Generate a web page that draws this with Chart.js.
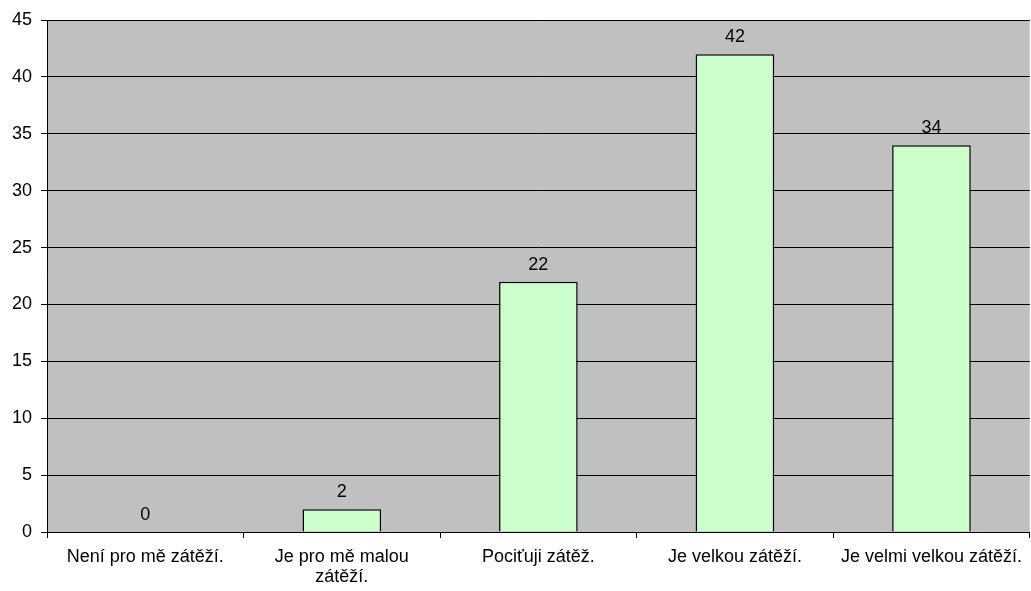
<!DOCTYPE html>
<html>
<head>
<meta charset="utf-8">
<script src="https://cdn.jsdelivr.net/npm/chart.js@4.4.0/dist/chart.umd.min.js"></script>
<style>
  html, body { margin: 0; padding: 0; background: #fff; }
  #wrap { width: 1031px; height: 591px; }
</style>
</head>
<body>
<div id="wrap"><canvas id="zatezChart"></canvas></div>
<script>
const categories = [
  "Není pro mě zátěží.",
  ["Je pro mě malou", "zátěží."],
  "Pociťuji zátěž.",
  "Je velkou zátěží.",
  "Je velmi velkou zátěží."
];
const counts = [0, 2, 22, 42, 34];
const yTicks = [0, 5, 10, 15, 20, 25, 30, 35, 40, 45];

const FONT = { family: "'Liberation Sans', Arial, sans-serif", size: 18, lineHeight: 1.1 };

// plot area background (grey)
const plotBackground = {
  id: 'plotBackground',
  beforeDraw(chart) {
    const { ctx, chartArea: a } = chart;
    ctx.save();
    ctx.fillStyle = '#c0c0c0';
    ctx.fillRect(a.left, a.top, a.right - a.left, a.bottom - a.top);
    ctx.restore();
  }
};

// value printed above each bar
const valueLabels = {
  id: 'valueLabels',
  afterDatasetsDraw(chart) {
    const { ctx } = chart;
    const meta = chart.getDatasetMeta(0);
    ctx.save();
    ctx.font = `${FONT.size}px ${FONT.family}`;
    ctx.fillStyle = '#000';
    ctx.textAlign = 'center';
    ctx.textBaseline = 'alphabetic';
    meta.data.forEach((bar, i) => {
      ctx.fillText(String(counts[i]), bar.x, bar.y - 12);
    });
    ctx.restore();
  }
};

new Chart(document.getElementById('zatezChart'), {
  type: 'bar',
  data: {
    labels: categories,
    datasets: [{
      data: counts,
      backgroundColor: '#ccffcc',
      borderColor: '#000',
      borderWidth: 1.5,
      barPercentage: 0.4,
      categoryPercentage: 1.0
    }]
  },
  options: {
    responsive: true,
    maintainAspectRatio: false,
    animation: false,
    layout: { padding: { top: 20, right: 0, left: 0, bottom: 0 } },
    plugins: {
      legend: { display: false },
      tooltip: { enabled: false }
    },
    scales: {
      x: {
        grid: {
          offset: true,
          drawOnChartArea: false,
          drawTicks: true,
          tickLength: 6,
          color: '#000'
        },
        border: { color: '#000', width: 1 },
        ticks: {
          color: '#000',
          font: FONT,
          padding: 9,
          maxRotation: 0,
          autoSkip: false
        },
        afterFit(scale) { scale.height = 59; }
      },
      y: {
        min: 0,
        max: 45,
        afterBuildTicks(scale) { scale.ticks = yTicks.map(v => ({ value: v })); },
        grid: {
          color: '#000',
          lineWidth: 1,
          tickLength: 6
        },
        border: { color: '#000', width: 1 },
        ticks: {
          color: '#000',
          font: FONT,
          padding: 9
        },
        afterFit(scale) { scale.width = 47; }
      }
    }
  },
  plugins: [plotBackground, valueLabels]
});
</script>
</body>
</html>
